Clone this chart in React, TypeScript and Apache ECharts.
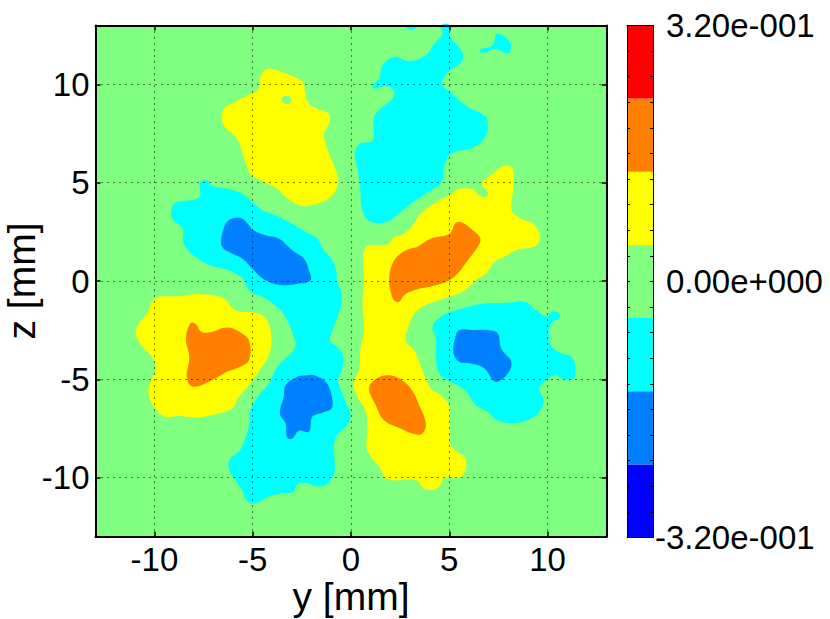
import { useRef, useEffect } from "react";
import * as echarts from "echarts";

const yTicks = [-10, -5, 0, 5, 10];
const zTicks = [-10, -5, 0, 5, 10];

// colour levels, low to high
const bandEdges = [-0.32, -0.2286, -0.1371, -0.0457, 0.0457, 0.1371, 0.2286, 0.32];
const bandColors = ["#0000ff", "#0080ff", "#00ffff", "#80ff80", "#ffff00", "#ff8000", "#ff0000"];
const colorbarTicks = [
  -0.32, -0.288, -0.256, -0.224, -0.192, -0.16, -0.128, -0.096, -0.064, -0.032, 0,
  0.032, 0.064, 0.096, 0.128, 0.16, 0.192, 0.224, 0.256, 0.288, 0.32,
];
const colorbarLabels = ["0.00e+000", "3.20e-001"];
const colorbarMinLabel = "-3.20e-001";

const GREEN = 3, YELLOW = 4, ORANGE = 5, CYAN = 2, BLUE = 1;

// contours, [y, z] in mm
const yellowTop = [[-4.27,10.8],[-3.5,10.64],[-2.82,10.35],[-2.45,10.11],[-2.31,9.45],[-2.14,9.02],[-1.72,8.77],[-1.21,8.57],[-1.07,8.26],[-1.21,7.84],[-1.38,7.5],[-1.29,6.99],[-1.12,6.48],[-0.87,5.89],[-0.65,5.21],[-0.7,4.79],[-0.95,4.36],[-1.29,4.11],[-1.89,3.89],[-2.4,3.8],[-2.82,3.94],[-3.33,4.28],[-3.76,4.7],[-4.27,4.96],[-4.69,5.16],[-5.12,5.43],[-5.34,5.97],[-5.54,6.57],[-5.75,7.16],[-6.05,7.5],[-6.48,7.92],[-6.56,8.52],[-6.39,8.85],[-5.88,9.11],[-5.37,9.4],[-4.73,9.74],[-4.61,10.38]];
const yellowTopHole = [[-3.5,9.33],[-3.33,9.41],[-3.11,9.4],[-3.03,9.19],[-3.16,9.02],[-3.37,9.04],[-3.5,9.16]];
const yellowLeft = [[-9.97,-0.89],[-8.78,-0.77],[-7.59,-0.67],[-6.48,-0.89],[-5.88,-1.49],[-4.69,-1.65],[-4.27,-1.99],[-4.05,-2.92],[-4.18,-3.77],[-4.69,-4.62],[-5.12,-5.21],[-5.71,-5.89],[-6.05,-6.48],[-7.07,-6.82],[-7.93,-6.94],[-8.78,-6.87],[-9.46,-6.91],[-9.97,-6.48],[-10.31,-5.72],[-10.22,-5.13],[-9.93,-4.45],[-10.14,-3.86],[-10.73,-3.18],[-10.95,-2.5],[-10.39,-1.65]];
const yellowRight = [[0.61,1.06],[0.66,1.57],[0.92,1.82],[1.85,1.87],[2.19,2.24],[2.7,2.41],[3.21,2.92],[3.47,3.35],[4.23,3.94],[5.09,4.41],[5.43,4.67],[6.19,4.67],[6.53,4.36],[6.87,4.28],[6.96,4.53],[6.65,4.96],[7.13,5.38],[7.72,5.84],[8.15,5.8],[8.28,5.38],[8.23,4.45],[8.18,3.6],[8.66,3.18],[9.25,2.92],[9.59,2.41],[9.51,1.91],[9.17,1.7],[8.49,1.6],[7.81,1.23],[7.3,0.97],[6.87,0.38],[6.36,0.04],[5.68,-0.55],[4.74,-0.89],[3.38,-1.49],[2.87,-2.5],[2.79,-3.09],[3.21,-3.52],[3.64,-4.54],[4.06,-5.47],[4.57,-5.81],[5,-6.4],[5.05,-8.26],[5.43,-8.72],[5.77,-8.94],[5.85,-9.45],[5.6,-9.96],[4.74,-10.04],[4.49,-10.47],[4.06,-10.64],[3.64,-10.5],[3.3,-10.13],[1.85,-10.08],[1.43,-9.45],[0.83,-8.6],[0.83,-7.5],[0.75,-6.65],[0.24,-5.72],[0.15,-5.13],[0.41,-4.45],[0.49,-3.35],[0.66,-2.5],[0.58,-1.15],[0.66,0.04]];
const orangeLeft = [[-8.18,-2.16],[-7.93,-2.16],[-7.59,-2.59],[-7.07,-2.59],[-6.31,-2.37],[-5.54,-2.67],[-5.17,-3.09],[-5.2,-4.03],[-5.71,-4.4],[-6.31,-4.62],[-6.9,-4.96],[-8.01,-5.38],[-8.35,-4.96],[-8.23,-3.86],[-8.4,-2.93]];
const orangeCenter = [[2.11,0.89],[2.53,1.4],[3.04,1.65],[3.38,1.74],[4.06,2.16],[5,2.41],[5.34,2.97],[5.68,2.97],[6.19,2.58],[6.58,2.16],[6.45,1.74],[5.94,1.06],[5.43,0.38],[5,0.04],[4.15,-0.26],[3.21,-0.47],[2.7,-0.72],[2.45,-1.06],[2.19,-0.98],[2.02,-0.55],[1.94,0.04]];
const orangeLower = [[0.92,-5.47],[1.26,-4.99],[1.85,-4.79],[2.45,-4.96],[3.04,-5.47],[3.47,-6.32],[3.81,-7.25],[3.64,-7.76],[3.21,-7.79],[2.53,-7.5],[1.68,-7.08],[1.26,-6.32]];
const cyanLeft = [[-7.5,5.13],[-7.28,5.09],[-7.16,4.87],[-6.22,4.67],[-5.54,4.45],[-5.03,4.02],[-4.52,3.6],[-3.84,3.35],[-3.16,3.01],[-2.4,2.55],[-1.72,2.16],[-1.38,1.57],[-0.95,1.06],[-0.75,0.55],[-0.71,0.04],[-0.48,-0.64],[-0.53,-1.32],[-0.82,-2.16],[-1.07,-3.01],[-0.78,-3.3],[-0.41,-3.77],[-0.44,-4.45],[-0.65,-5.04],[-0.44,-5.72],[-0.24,-6.23],[-0.02,-6.82],[-0.19,-7.33],[-0.7,-7.84],[-0.87,-8.43],[-0.82,-9.45],[-0.92,-9.96],[-1.29,-10.38],[-1.8,-10.43],[-2.31,-10.26],[-2.74,-10.38],[-2.91,-10.72],[-3.5,-10.81],[-4.1,-10.94],[-4.69,-11.23],[-5.12,-11.32],[-5.37,-11.06],[-5.54,-10.64],[-5.88,-10.13],[-6.22,-9.54],[-6.14,-9.03],[-5.71,-8.69],[-5.41,-8.09],[-5.17,-7.25],[-5.12,-6.57],[-4.69,-5.81],[-4.18,-5.21],[-3.76,-4.37],[-2.87,-3.43],[-2.91,-2.84],[-3.25,-2],[-3.59,-1.49],[-4.35,-0.89],[-5.12,-0.55],[-5.46,0.04],[-5.6,0.21],[-6.22,0.55],[-7.16,0.8],[-7.93,1.23],[-8.52,1.91],[-8.57,2.67],[-9.08,3.14],[-9.15,3.52],[-8.95,3.97],[-7.93,4.16],[-7.67,4.36],[-7.7,4.96]];
const cyanTop = [[4.54,13],[5.05,13],[5.05,12.41],[5.43,11.99],[5.68,11.57],[5.63,11.14],[5.05,10.72],[4.66,10.21],[4.71,9.87],[5.05,9.62],[5.6,9.11],[6.11,8.77],[6.79,8.43],[6.96,8.01],[6.87,7.41],[6.28,6.82],[5.09,6.48],[4.74,5.8],[4.61,5.04],[4.06,4.62],[3.3,4.11],[2.53,3.52],[1.85,3.01],[1,3.01],[0.58,3.6],[0.46,4.79],[0.32,5.8],[0.19,6.4],[0.41,6.96],[1.09,7.16],[1.17,8.35],[1.51,8.77],[2.11,9.28],[2.16,9.7],[1.77,9.91],[1.17,9.79],[1.09,9.96],[1.43,10.3],[1.6,10.97],[2.19,11.4],[2.96,11.19],[3.81,11.48],[4.23,12.07],[4.66,12.58]];
const cyanEdge = [[2.79,13],[3.35,13],[3.25,12.82],[2.87,12.82]];
const cyanSmall = [[7.38,12.55],[7.64,12.55],[8.11,12.11],[8.11,11.73],[7.98,11.57],[7.64,11.7],[7.3,11.82],[6.87,11.62],[6.62,11.62],[6.55,11.77],[7.13,11.94],[7.3,12.24]];
const cyanRight = [[4.15,-2.33],[4.57,-1.82],[5.09,-1.57],[5.94,-1.32],[6.79,-1.15],[7.98,-1.11],[8.83,-1.06],[9.42,-1.49],[10.02,-1.82],[10.19,-1.57],[10.53,-1.6],[10.65,-1.86],[10.19,-2.16],[10.1,-3.09],[10.53,-3.6],[11.21,-3.86],[11.43,-4.54],[11.29,-4.96],[10.7,-4.96],[10.36,-4.79],[9.85,-5.13],[9.59,-5.47],[9.8,-6.15],[9.42,-6.82],[8.49,-7.21],[7.47,-7.11],[6.96,-6.65],[6.36,-6.32],[5.77,-5.55],[5.09,-5.13],[4.49,-4.71],[4.32,-3.86],[4.32,-2.93]];
const blueLeft = [[-6.05,3.18],[-5.54,3.18],[-4.95,2.58],[-4.35,2.33],[-3.67,2.16],[-2.99,1.57],[-2.4,1.14],[-2.14,0.55],[-2.06,0.04],[-2.65,-0.13],[-3.5,-0.21],[-4.35,0.04],[-5.03,0.63],[-5.54,1.14],[-6.22,1.48],[-6.56,1.74],[-6.6,2.16],[-6.48,2.67],[-6.31,3.01]];
const blueLower = [[-2.74,-4.87],[-2.31,-4.81],[-1.89,-4.79],[-1.29,-5.13],[-0.99,-5.81],[-0.99,-6.48],[-1.46,-6.7],[-1.97,-6.91],[-2.14,-7.67],[-2.65,-7.62],[-2.99,-8.01],[-3.25,-7.96],[-3.33,-7.25],[-3.62,-6.74],[-3.42,-5.89],[-3.33,-5.3]];
const blueRight = [[5.51,-2.5],[6.28,-2.5],[7.04,-2.5],[7.47,-2.67],[7.64,-3.43],[8.15,-4.11],[7.98,-4.71],[7.47,-5.13],[7.21,-5.04],[6.79,-4.45],[6.11,-4.2],[5.51,-4.11],[5.22,-3.69],[5.29,-2.93]];

// paint order matters: outer levels first
const regions = [
  { band: YELLOW, points: yellowTop },
  { band: GREEN, points: yellowTopHole },
  { band: YELLOW, points: yellowLeft },
  { band: YELLOW, points: yellowRight },
  { band: CYAN, points: cyanLeft },
  { band: CYAN, points: cyanTop },
  { band: CYAN, points: cyanEdge },
  { band: CYAN, points: cyanSmall },
  { band: CYAN, points: cyanRight },
  { band: ORANGE, points: orangeLeft },
  { band: ORANGE, points: orangeCenter },
  { band: ORANGE, points: orangeLower },
  { band: BLUE, points: blueLeft },
  { band: BLUE, points: blueLower },
  { band: BLUE, points: blueRight },
];

const FONT = "Liberation Sans";
const LABEL_SIZE = 33;
const line = { show: true, onZero: false, lineStyle: { color: "#000", width: 2 } };
const grid = { show: true, lineStyle: { color: "#000", width: 1, type: [1, 5] } };
const label = { color: "#000", fontFamily: FONT, fontSize: LABEL_SIZE };
const nameStyle = { color: "#000", fontFamily: FONT, fontSize: 39 };

function mainAxis(ticks: number[], position: string, isMain: boolean, name: string) {
  return {
    type: "value",
    gridIndex: 0,
    position,
    min: -13,
    max: 13,
    z: 10,
    name: isMain ? name : "",
    nameLocation: "middle",
    nameGap: position === "bottom" ? 40 : 55,
    nameMoveOverlap: false,
    nameTextStyle: nameStyle,
    axisLine: line,
    axisTick: { show: true, inside: true, length: 5, customValues: ticks, lineStyle: { color: "#000", width: 1.5 } },
    axisLabel: isMain ? { ...label, margin: 6, customValues: ticks } : { show: false },
    splitLine: isMain ? grid : { show: false },
  };
}

function barAxis(position: string, labels: "main" | "min" | "none") {
  return {
    type: "value",
    gridIndex: 1,
    position,
    min: bandEdges[0],
    max: bandEdges[bandEdges.length - 1],
    z: 10,
    axisLine: { show: true, onZero: false, lineStyle: { color: "#000", width: 1 } },
    axisTick: {
      show: labels !== "min",
      inside: true,
      length: 3,
      customValues: colorbarTicks,
      lineStyle: { color: "#000", width: 1 },
    },
    axisLabel:
      labels === "main"
        ? { ...label, margin: 13, customValues: [0, 0.32], formatter: (v: number) => colorbarLabels[v === 0 ? 0 : 1] }
        : labels === "min"
          ? { ...label, margin: 2, customValues: [-0.32], formatter: () => colorbarMinLabel }
          : { show: false },
    splitLine: { show: false },
  };
}

function barX(position: string) {
  return {
    type: "value",
    gridIndex: 1,
    position,
    min: 0,
    max: 1,
    z: 10,
    axisLine: { show: true, onZero: false, lineStyle: { color: "#000", width: 1 } },
    axisTick: { show: false },
    axisLabel: { show: false },
    splitLine: { show: false },
  };
}

export default function App() {
  const chartRef = useRef<HTMLDivElement>(null);

  useEffect(() => {
    if (!chartRef.current) return;
    const chart = echarts.init(chartRef.current, undefined, { renderer: "svg" });

    chart.setOption({
      animation: false,
      backgroundColor: "#fff",
      grid: [
        { left: 95.5, top: 25.5, width: 511, height: 511, show: true, backgroundColor: bandColors[GREEN], borderWidth: 0, outerBoundsMode: "none" },
        { left: 627, top: 25.5, width: 26, height: 512, show: false, outerBoundsMode: "none" },
      ],
      xAxis: [
        mainAxis(yTicks, "bottom", true, "y [mm]"),
        mainAxis(yTicks, "top", false, ""),
        barX("bottom"),
        barX("top"),
      ],
      yAxis: [
        mainAxis(zTicks, "left", true, "z [mm]"),
        mainAxis(zTicks, "right", false, ""),
        barAxis("left", "none"),
        barAxis("right", "main"),
        barAxis("right", "min"),
      ],
      series: [
        {
          type: "custom",
          xAxisIndex: 0,
          yAxisIndex: 0,
          silent: true,
          data: regions.map((_, i) => [i]),
          renderItem: (params: any, api: any) => {
            const region = regions[params.dataIndex];
            return {
              type: "polygon",
              shape: { points: region.points.map((p) => api.coord(p)), smooth: 0.4 },
              style: { fill: bandColors[region.band] },
            };
          },
        },
        {
          type: "custom",
          xAxisIndex: 2,
          yAxisIndex: 2,
          silent: true,
          data: bandColors.map((_, i) => [i]),
          renderItem: (params: any, api: any) => {
            const i = params.dataIndex;
            const a = api.coord([0, bandEdges[i + 1]]);
            const b = api.coord([1, bandEdges[i]]);
            return {
              type: "rect",
              shape: { x: a[0], y: a[1], width: b[0] - a[0], height: b[1] - a[1] },
              style: { fill: bandColors[i] },
            };
          },
        },
      ],
    });

    return () => {
      chart.dispose();
    };
  }, []);

  return <div ref={chartRef} style={{ position: "absolute", left: 0, top: 0, width: 830, height: 619 }} />;
}
